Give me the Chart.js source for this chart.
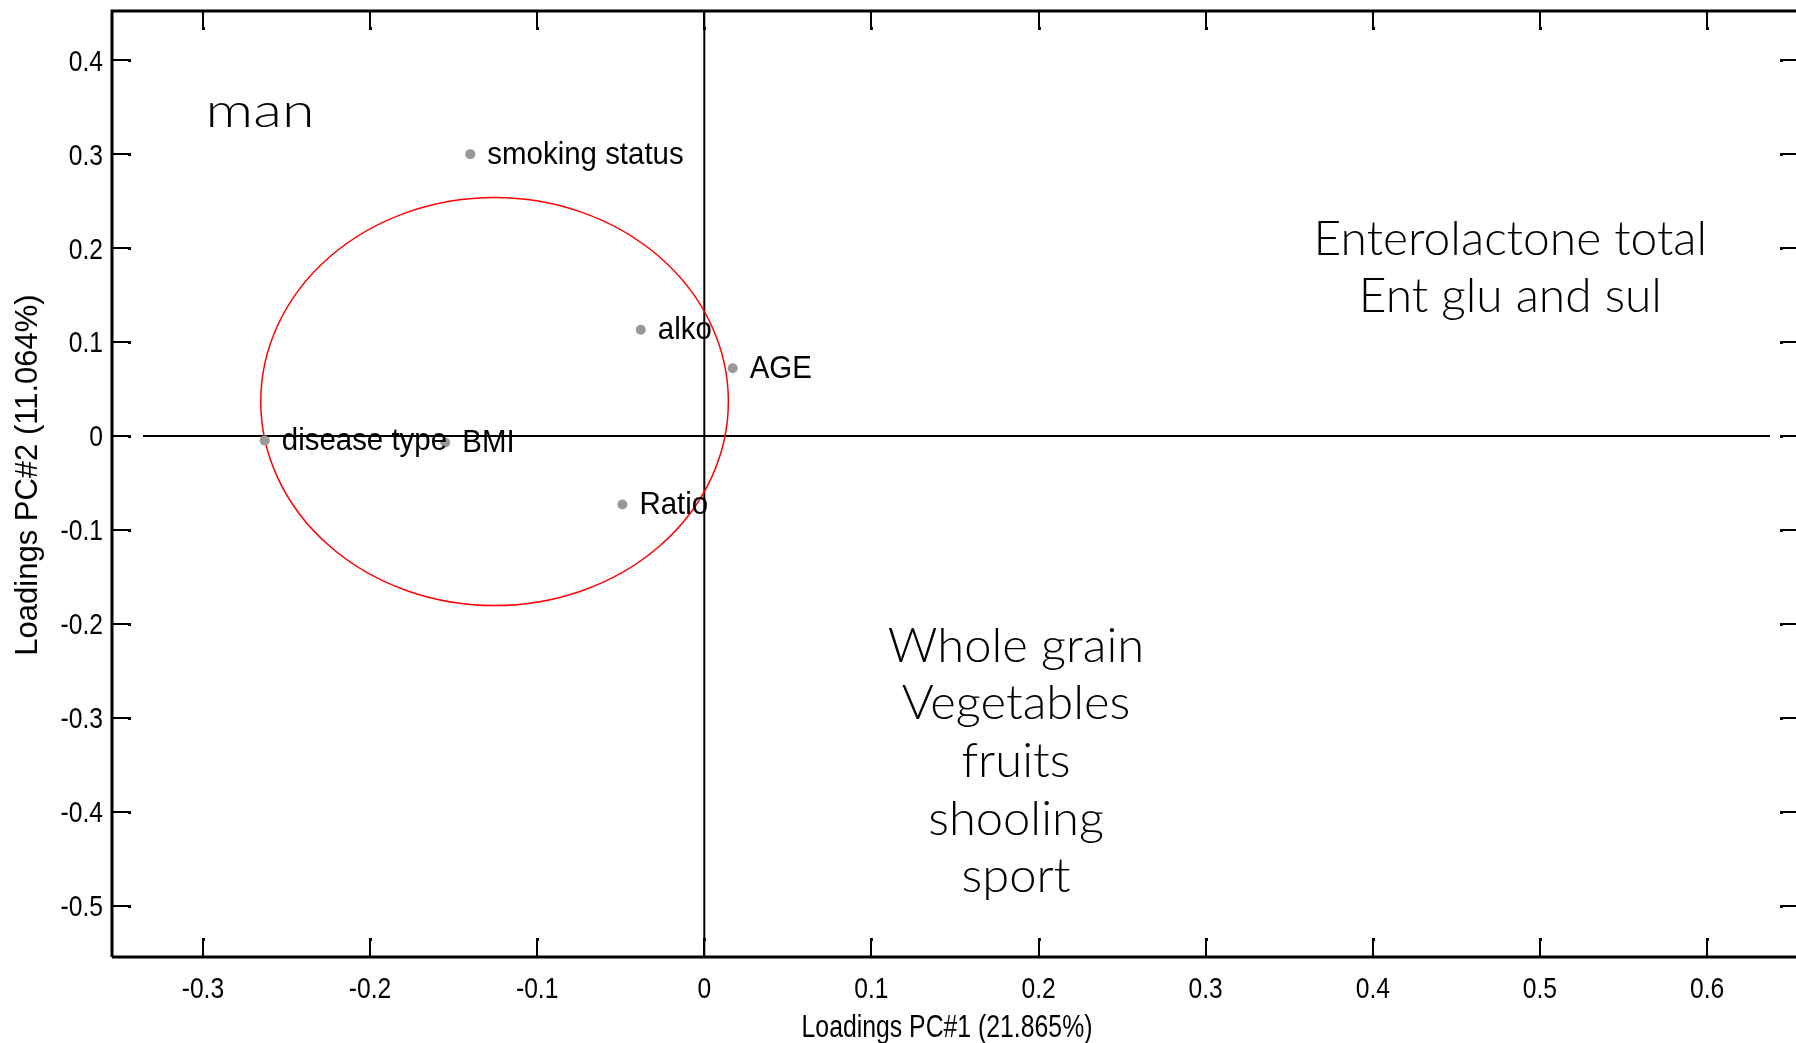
<!DOCTYPE html>
<html>
<head>
<meta charset="utf-8">
<title>Loadings PC#1 / PC#2 - man</title>
<script src="https://cdn.jsdelivr.net/npm/chart.js@4.4.1/dist/chart.umd.min.js"></script>
<style>
  html, body { margin: 0; padding: 0; background: #fff; overflow: hidden; }
  #wrap { width: 1796px; height: 1043px; overflow: hidden; }
  canvas { display: block; }
</style>
</head>
<body>
<div id="wrap"><canvas id="loadingsChart" width="1810" height="1043"></canvas></div>
<script>
// loadings
const variables = ['smoking status', 'alko', 'AGE', 'disease type', 'BMI', 'Ratio'];
const pc1 = [-0.140, -0.038, 0.017, -0.263, -0.155, -0.049];
const pc2 = [0.300, 0.113, 0.072, -0.005, -0.007, -0.073];

const xTicks = [-0.3, -0.2, -0.1, 0, 0.1, 0.2, 0.3, 0.4, 0.5, 0.6];
const yTicks = [0.4, 0.3, 0.2, 0.1, 0, -0.1, -0.2, -0.3, -0.4, -0.5];

const xTitle = 'Loadings PC#1 (21.865%)';
const yTitle = 'Loadings PC#2 (11.064%)';

const groupNote = ['man'];
const upperNote = ['Enterolactone total', 'Ent glu and sul'];
const lowerNote = ['Whole grain', 'Vegetables', 'fruits', 'shooling', 'sport'];

const plainFont = "'Liberation Sans', Arial, sans-serif";
const roundFont = "Lato, 'Open Sans', sans-serif";

function tickText(v) {
  const r = Math.round(v * 10) / 10;
  return r === 0 ? '0' : r.toFixed(1);
}

// the original text is a squeezed Arial, so draw it narrowed
function squeezedText(ctx, text, x, y, sx) {
  ctx.save();
  ctx.translate(x, y);
  ctx.scale(sx, 1);
  ctx.fillText(text, 0, 0);
  ctx.restore();
}

// frame with inward ticks, zero lines, red circle, labels and notes
const loadingsPlot = {
  id: 'loadingsPlot',
  beforeDatasetsDraw(chart, args, opts) {
    const { ctx, chartArea: a, scales: { x, y } } = chart;
    ctx.save();

    // zero lines
    ctx.strokeStyle = '#000';
    ctx.lineWidth = 2;
    const x0 = x.getPixelForValue(0);
    const y0 = y.getPixelForValue(0);
    ctx.beginPath();
    ctx.moveTo(x0, a.top);
    ctx.lineTo(x0, a.bottom);
    ctx.moveTo(a.left + 31, y0);
    ctx.lineTo(a.right - 29, y0);
    ctx.stroke();

    // circle around the cluster
    const e = opts.ellipse;
    const cx = x.getPixelForValue(e.cx);
    const cy = y.getPixelForValue(e.cy);
    const rx = x.getPixelForValue(e.cx + e.rx) - cx;
    const ry = cy - y.getPixelForValue(e.cy + e.ry);
    ctx.strokeStyle = '#ff0000';
    ctx.lineWidth = 1.5;
    ctx.beginPath();
    ctx.ellipse(cx, cy, rx, ry, 0, 0, Math.PI * 2);
    ctx.stroke();

    // frame (left, top, bottom)
    ctx.strokeStyle = '#000';
    ctx.lineWidth = 3;
    ctx.beginPath();
    ctx.moveTo(a.left, a.bottom);
    ctx.lineTo(a.left, a.top);
    ctx.lineTo(a.right + 20, a.top);
    ctx.moveTo(a.left, a.bottom);
    ctx.lineTo(a.right + 20, a.bottom);
    ctx.stroke();

    // inward ticks
    ctx.lineWidth = 2;
    ctx.fillStyle = '#000';
    const len = 18;
    xTicks.forEach(v => {
      const px = Math.round(x.getPixelForValue(v));
      ctx.beginPath();
      ctx.moveTo(px, a.bottom);
      ctx.lineTo(px, a.bottom - len);
      ctx.moveTo(px, a.top);
      ctx.lineTo(px, a.top + len);
      ctx.stroke();
      ctx.fillRect(px - 1, a.bottom - len - 1, 3, 3);
      ctx.fillRect(px - 1, a.top + len - 2, 3, 3);
    });
    yTicks.forEach(v => {
      const py = Math.round(y.getPixelForValue(v));
      ctx.beginPath();
      ctx.moveTo(a.left, py);
      ctx.lineTo(a.left + len, py);
      ctx.moveTo(a.right, py);
      ctx.lineTo(a.right - len, py);
      ctx.stroke();
      ctx.fillRect(a.left + len - 2, py - 1, 3, 3);
      ctx.fillRect(a.right - len - 1, py - 1, 3, 3);
    });

    // tick labels and axis titles
    ctx.textBaseline = 'alphabetic';
    ctx.font = '30px ' + plainFont;
    ctx.textAlign = 'center';
    xTicks.forEach(v => {
      squeezedText(ctx, tickText(v), x.getPixelForValue(v), a.bottom + 41, 0.82);
    });
    ctx.textAlign = 'right';
    yTicks.forEach(v => {
      squeezedText(ctx, tickText(v), a.left - 9, y.getPixelForValue(v) + 10.5, 0.82);
    });
    ctx.font = '31px ' + plainFont;
    ctx.textAlign = 'center';
    squeezedText(ctx, xTitle, 947, a.bottom + 80, 0.8);

    ctx.save();
    ctx.translate(37, 475);
    ctx.rotate(-Math.PI / 2);
    ctx.font = '31px ' + plainFont;
    ctx.fillText(yTitle, 0, 0);
    ctx.restore();

    ctx.restore();
  },
  afterDatasetsDraw(chart, args, opts) {
    const { ctx, scales: { x, y } } = chart;
    ctx.save();

    // variable names next to the points
    ctx.fillStyle = '#000';
    ctx.font = '32px ' + plainFont;
    ctx.textAlign = 'left';
    ctx.textBaseline = 'alphabetic';
    const meta = chart.getDatasetMeta(0);
    meta.data.forEach((pt, i) => {
      squeezedText(ctx, variables[i], pt.x + 17, pt.y + 9.5, 0.92);
    });

    // free text in the quadrants
    ctx.font = '300 47px ' + roundFont;
    opts.notes.forEach(n => {
      ctx.textAlign = n.align;
      const px = x.getPixelForValue(n.x);
      const py = y.getPixelForValue(n.y);
      n.lines.forEach((line, k) => squeezedText(ctx, line, px, py + k * opts.lineGap, n.stretch || 1));
    });
    ctx.restore();
  }
};

new Chart(document.getElementById('loadingsChart'), {
  type: 'scatter',
  data: {
    datasets: [{
      label: 'Loadings',
      data: pc1.map((v, i) => ({ x: v, y: pc2[i] })),
      backgroundColor: '#999999',
      borderWidth: 0,
      pointRadius: 5,
      pointHoverRadius: 5
    }]
  },
  options: {
    responsive: false,
    animation: false,
    layout: { padding: { top: 11, right: 11, left: 0, bottom: 0 } },
    plugins: {
      legend: { display: false },
      tooltip: { enabled: false },
      loadingsPlot: {
        ellipse: { cx: -0.1255, cy: 0.0366, rx: 0.1399, ry: 0.2172 },
        lineGap: 57.7,
        notes: [
          { lines: groupNote, x: -0.2984, y: 0.329, align: 'left', stretch: 1.26 },
          { lines: upperNote, x: 0.4823, y: 0.1931, align: 'center', stretch: 1.02 },
          { lines: lowerNote, x: 0.1865, y: -0.2402, align: 'center', stretch: 1.04 }
        ]
      }
    },
    scales: {
      x: {
        type: 'linear',
        min: -0.3544,
        max: 0.655,
        afterBuildTicks: s => { s.ticks = xTicks.map(v => ({ value: v })); },
        afterFit: s => {
          s.height = 86;
          s.paddingLeft = 0;
          s.paddingRight = 0;
        },
        grid: { display: false, drawTicks: false },
        border: { display: false },
        ticks: { display: false },
        title: { display: false }
      },
      y: {
        type: 'linear',
        min: -0.5548,
        max: 0.4524,
        afterBuildTicks: s => { s.ticks = yTicks.map(v => ({ value: v })); },
        afterFit: s => {
          s.width = 112;
          s.paddingTop = 0;
          s.paddingBottom = 0;
        },
        grid: { display: false, drawTicks: false },
        border: { display: false },
        ticks: { display: false },
        title: { display: false }
      }
    }
  },
  plugins: [loadingsPlot]
});
</script>
</body>
</html>
